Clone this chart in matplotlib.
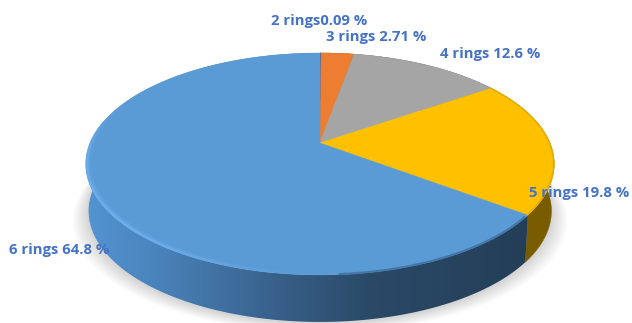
import numpy as np
import matplotlib
matplotlib.use("Agg")
import matplotlib.pyplot as plt
from matplotlib.collections import LineCollection
from matplotlib.colors import LinearSegmentedColormap, to_rgb
from matplotlib.patches import Polygon

# ring share of the pie, percent, clockwise from 12 o'clock
labels = ["2 rings", "3 rings", "4 rings", "5 rings", "6 rings"]
shares = [0.09, 2.71, 12.6, 19.8, 64.8]
label_text = ["2 rings0.09 %", "3 rings 2.71 %", "4 rings 12.6 %", "5 rings 19.8 %", "6 rings 64.8 %"]
colors = ["#5B5B8C", "#ED7D31", "#A5A5A5", "#FFC000", "#5B9BD5"]
wall_colors = ["#3a3a58", "#8c4a1d", "#626262", "#7A5C00", None]

W, H = 632, 323
cx, cy = 320, 143
Bx, By, k = 230.0, 107.0, 0.189
depth = 47


def project(theta, r=1.0, drop=0.0, shrink=1.0):
    # perspective view of a point on the disc, theta clockwise from the top
    u = r * np.sin(theta)
    v = r * np.cos(theta)
    w = 1 + k * v
    return cx + shrink * Bx * u / w, cy - By * v / w + drop


fig = plt.figure(figsize=(W / 100, H / 100), dpi=100)
ax = fig.add_axes([0, 0, 1, 1])
ax.set_xlim(0, W)
ax.set_ylim(H, 0)
ax.axis("off")

edges = np.concatenate([[0], np.cumsum(shares)]) / sum(shares) * 2 * np.pi

# soft shadow round the lower rim
full = np.linspace(0, 2 * np.pi, 240)
sx, sy = project(full, drop=depth + 1, shrink=0.988)
for grow in np.linspace(16, 1, 14):
    ax.fill(cx + (sx - cx) * (1 + grow / 230), sy + grow * 0.6, color="#000000",
            alpha=0.012, lw=0, zorder=1)

# side wall: one outline per slice, the big slice filled with a left-right gradient
wall_cmap = LinearSegmentedColormap.from_list(
    "wall", [(0, "#5394D2"), (0.15, "#4A84BC"), (0.42, "#38608A"),
             (0.62, "#2B4A68"), (1, "#233D56")])
for i in range(len(shares)):
    th = np.linspace(edges[i], edges[i + 1], max(3, int(shares[i] * 6)))
    x0, y0 = project(th)
    x1, y1 = project(th[::-1], drop=depth, shrink=0.988)
    outline = np.c_[np.r_[x0, x1], np.r_[y0, y1]]
    if wall_colors[i] is None:
        patch = Polygon(outline, closed=True, fc="none", ec="none", zorder=2)
        ax.add_patch(patch)
        img = ax.imshow(np.linspace(0, 1, 256)[None, :], cmap=wall_cmap, aspect="auto",
                        extent=(86, 540, H, 0), zorder=2)
        img.set_clip_path(patch)
    else:
        ax.add_patch(Polygon(outline, closed=True, fc=wall_colors[i], ec=wall_colors[i],
                             lw=0.3, zorder=2))
ax.set_xlim(0, W)
ax.set_ylim(H, 0)

# top face
for i in range(len(shares)):
    th = np.linspace(edges[i], edges[i + 1], max(3, int(shares[i] * 5)))
    x, y = project(th)
    ax.fill(np.r_[cx, x], np.r_[cy, y], color=colors[i], lw=0.3, ec=colors[i], zorder=3)

# bevel on the front rim: light on the left of the blue, fading out either way
th = np.radians(np.linspace(183, 285, 200))
fade = np.clip((np.degrees(th) - 183) / 40, 0, 1) * np.clip((285 - np.degrees(th)) / 25, 0, 1)
for r, lw, strength in [(0.995, 2.0, 0.9), (0.985, 2.2, 0.25)]:
    x, y = project(th, r=r)
    pts = np.c_[x, y]
    segs = np.stack([pts[:-1], pts[1:]], axis=1)
    rgba = [to_rgb("#6FB2F2") + (a * strength,) for a in fade[:-1]]
    ax.add_collection(LineCollection(segs, colors=rgba, linewidths=lw, zorder=4, capstyle="butt"))

# and a darker soft edge where the blue meets the dark part of the wall
th = np.radians(np.linspace(128, 176, 80))
x, y = project(th, r=0.997)
ax.plot(x, y, color="#3F6F9E", lw=1.6, alpha=0.8, zorder=4)

th = np.linspace(edges[3], edges[4], 80)
x, y = project(th, r=0.997)
ax.plot(x, y, color="#E5AD00", lw=1.0, zorder=4)

# data labels
label_x = [271, 326, 440, 529, 9]
label_y = [21, 37, 54, 193, 250]
for s, lx, ly in zip(label_text, label_x, label_y):
    ax.text(lx, ly, s, color="#4472C4", fontsize=10.7, fontweight="bold",
            family="Open Sans", ha="left", va="center", zorder=6)

fig.savefig("out.png", dpi=100)
